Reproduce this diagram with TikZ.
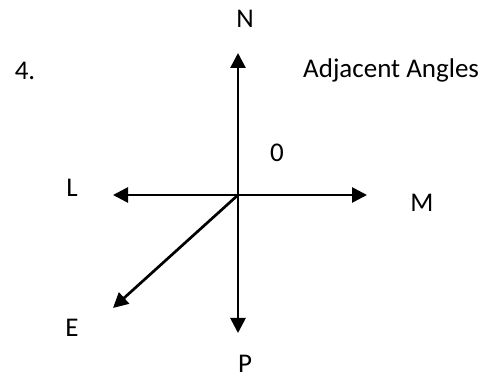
\documentclass[tikz,border=0pt]{standalone}
\usepackage{fontspec}
\setmainfont{Carlito}
\usetikzlibrary{arrows.meta}
\tikzset{
  ray/.style={line width=2.7pt,-{Triangle[length=15pt,width=15pt]}},
  lbl/.style={inner sep=0pt,font=\fontsize{27}{31}\selectfont}
}

\begin{document}
\begin{tikzpicture}[x=1pt,y=-1pt]
  \useasboundingbox (0,0) rectangle (501,379);
  \coordinate (O) at (238,195);
  \coordinate (tN) at (238,53);
  \coordinate (tP) at (238,333);
  \coordinate (tL) at (113,195);
  \coordinate (tM) at (367,195);
  \coordinate (tE) at (113,308);
  \draw[ray] (O) -- (tN);
  \draw[ray] (O) -- (tP);
  \draw[ray] (O) -- (tL);
  \draw[ray] (O) -- (tM);
  \draw[ray] (O) -- (tE);
  \node[lbl] (N) at (245,19) {N};
  \node[lbl] (P) at (245,364) {P};
  \node[lbl] (L) at (72,188) {L};
  \node[lbl] (M) at (422,203) {M};
  \node[lbl] (E) at (72,328) {E};
  \node[lbl] (zero) at (277,153) {0};
  \node[lbl] (num) at (25,71) {4.};
  \node[lbl,anchor=base west] (title) at (303,78) {Adjacent Angles};
\end{tikzpicture}
\end{document}
